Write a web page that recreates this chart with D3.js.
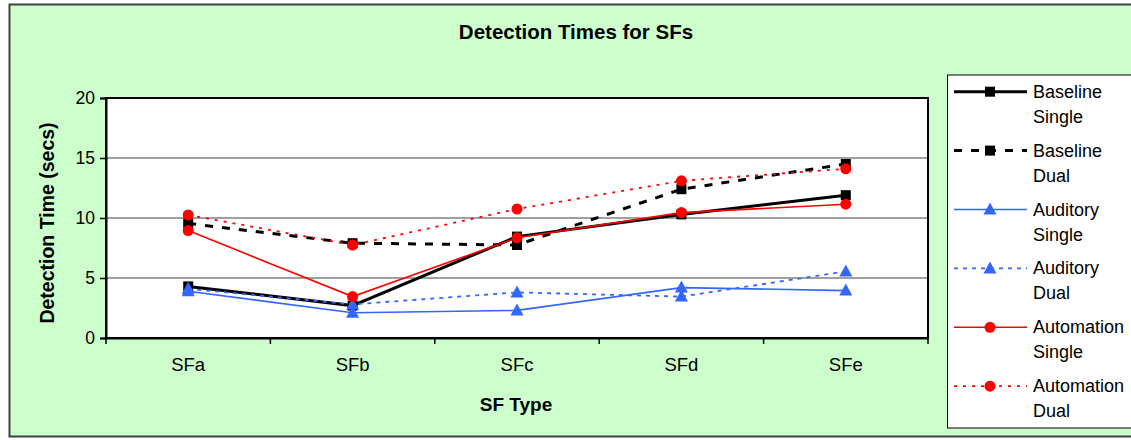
<!DOCTYPE html>
<html>
<head>
<meta charset="utf-8">
<script src="https://cdn.jsdelivr.net/npm/d3@7"></script>
<style>
  html, body { margin: 0; padding: 0; background: #fff; }
  svg { display: block; font-family: "Liberation Sans", Arial, sans-serif; }
</style>
</head>
<body>
<svg id="chart" width="1131" height="440"></svg>
<script>
const categories = ["SFa", "SFb", "SFc", "SFd", "SFe"];
const yTicks = [0, 5, 10, 15, 20];
const baselineSingle   = [4.3, 2.7, 8.45, 10.3, 11.9];
const baselineDual     = [9.55, 7.9, 7.75, 12.4, 14.5];
const auditorySingle   = [3.9, 2.1, 2.3, 4.2, 3.95];
const auditoryDual     = [4.1, 2.8, 3.8, 3.45, 5.55];
const automationSingle = [8.95, 3.45, 8.35, 10.45, 11.15];
const automationDual   = [10.25, 7.75, 10.75, 13.1, 14.1];

const seriesNames = [["Baseline", "Single"], ["Baseline", "Dual"], ["Auditory", "Single"],
                     ["Auditory", "Dual"], ["Automation", "Single"], ["Automation", "Dual"]];
const seriesData = [baselineSingle, baselineDual, auditorySingle, auditoryDual, automationSingle, automationDual];

const styles = [
  {color: "#000000", width: 3,   dash: null,  marker: "square"},
  {color: "#000000", width: 3,   dash: "8,9", marker: "square"},
  {color: "#3366FF", width: 1.6, dash: null,  marker: "triangle"},
  {color: "#3366FF", width: 1.8, dash: "4,5", marker: "triangle"},
  {color: "#FF0000", width: 1.6, dash: null,  marker: "circle"},
  {color: "#FF0000", width: 1.8, dash: "3,6", marker: "circle"}
];

const svg = d3.select("#chart");

// chart background
svg.append("rect").attr("x", 9.5).attr("y", 4.5).attr("width", 1140).attr("height", 432)
  .attr("fill", "#CCFFCC").attr("stroke", "#404040").attr("stroke-width", 2);

const plot = {left: 106, right: 928, top: 98, bottom: 338};

const x = d3.scaleBand().domain(categories).range([plot.left, plot.right]);
const y = d3.scaleLinear().domain([0, 20]).range([plot.bottom, plot.top]);

// plot area
svg.append("rect").attr("x", plot.left).attr("y", plot.top)
  .attr("width", plot.right - plot.left).attr("height", plot.bottom - plot.top)
  .attr("fill", "#FFFFFF");

// gridlines
svg.append("g").selectAll("line").data(yTicks.filter(d => d > 0 && d < 20)).join("line")
  .attr("x1", plot.left).attr("x2", plot.right)
  .attr("y1", d => y(d)).attr("y2", d => y(d))
  .attr("stroke", "#808080").attr("stroke-width", 1.5);

// plot border
svg.append("rect").attr("x", plot.left).attr("y", plot.top)
  .attr("width", plot.right - plot.left).attr("height", plot.bottom - plot.top)
  .attr("fill", "none").attr("stroke", "#000").attr("stroke-width", 2);

// y axis
const yAxis = d3.axisLeft(y).tickValues(yTicks).tickSize(6).tickPadding(5);
const gy = svg.append("g").attr("transform", `translate(${plot.left},0)`).call(yAxis);
gy.select(".domain").attr("stroke", "#000").attr("stroke-width", 2);
gy.selectAll(".tick line").attr("stroke", "#000").attr("stroke-width", 1.5);
gy.selectAll(".tick text").attr("font-size", 17.5).attr("fill", "#000")
  .attr("font-family", "Liberation Sans, Arial, sans-serif");

// x axis: ticks at category boundaries
const xAxis = d3.axisBottom(x).tickSize(0).tickPadding(20);
const gx = svg.append("g").attr("transform", `translate(0,${plot.bottom})`).call(xAxis);
gx.select(".domain").attr("stroke", "#000").attr("stroke-width", 2);
gx.selectAll(".tick text").attr("font-size", 18.5).attr("fill", "#000")
  .attr("font-family", "Liberation Sans, Arial, sans-serif");
const bounds = categories.map(c => x(c)).concat([x(categories[categories.length - 1]) + x.bandwidth()]);
svg.append("g").selectAll("line").data(bounds).join("line")
  .attr("x1", d => d).attr("x2", d => d)
  .attr("y1", plot.bottom).attr("y2", plot.bottom + 6)
  .attr("stroke", "#000").attr("stroke-width", 1.5);

// titles
svg.append("text").attr("x", 576).attr("y", 39).attr("text-anchor", "middle")
  .attr("font-size", 20.5).attr("font-weight", "bold").text("Detection Times for SFs");
svg.append("text").attr("x", 516).attr("y", 411).attr("text-anchor", "middle")
  .attr("font-size", 19).attr("font-weight", "bold").text("SF Type");
svg.append("text").attr("transform", "translate(54,223) rotate(-90)").attr("text-anchor", "middle")
  .attr("font-size", 19.5).attr("font-weight", "bold").text("Detection Time (secs)");

function drawMarker(g, type, cx, cy, color) {
  if (type === "square") {
    g.append("rect").attr("x", cx - 5).attr("y", cy - 5).attr("width", 10).attr("height", 10).attr("fill", color);
  } else if (type === "triangle") {
    g.append("path").attr("d", `M${cx},${cy - 7}L${cx + 6.5},${cy + 5}L${cx - 6.5},${cy + 5}Z`).attr("fill", color);
  } else {
    g.append("circle").attr("cx", cx).attr("cy", cy).attr("r", 5.5).attr("fill", color);
  }
}

const line = d3.line().x((d, i) => x(categories[i]) + x.bandwidth() / 2).y(d => y(d));

seriesData.forEach((data, si) => {
  const st = styles[si];
  const g = svg.append("g");
  g.append("path").attr("d", line(data)).attr("fill", "none")
    .attr("stroke", st.color).attr("stroke-width", st.width)
    .attr("stroke-dasharray", st.dash);
  data.forEach((v, i) => drawMarker(g, st.marker, x(categories[i]) + x.bandwidth() / 2, y(v), st.color));
});

// legend
const lg = svg.append("g");
lg.append("rect").attr("x", 947.5).attr("y", 75).attr("width", 200).attr("height", 353)
  .attr("fill", "#FFFFFF").attr("stroke", "#000").attr("stroke-width", 1);
seriesNames.forEach((nm, i) => {
  const st = styles[i];
  const cy = 91.7 + i * 58.9;
  const g = lg.append("g");
  g.append("line").attr("x1", 954).attr("x2", 1027).attr("y1", cy).attr("y2", cy)
    .attr("stroke", st.color).attr("stroke-width", st.width).attr("stroke-dasharray", st.dash);
  drawMarker(g, st.marker, 990, cy, st.color);
  g.append("text").attr("x", 1033).attr("y", cy + 6).attr("font-size", 18).text(nm[0]);
  g.append("text").attr("x", 1033).attr("y", cy + 31).attr("font-size", 18).text(nm[1]);
});
</script>
</body>
</html>
